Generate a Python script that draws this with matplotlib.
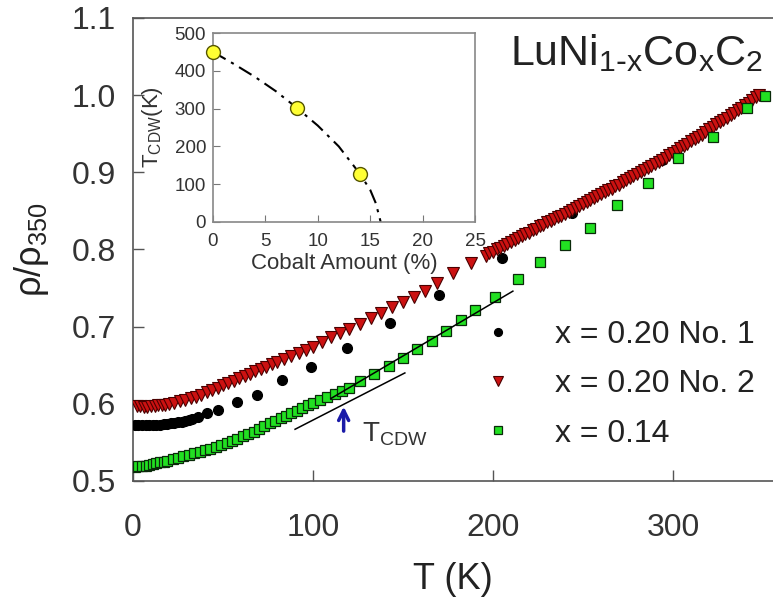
import matplotlib
matplotlib.use("Agg")
import matplotlib.pyplot as plt

plt.rcParams['font.family'] = ['Liberation Sans', 'DejaVu Sans']
plt.rcParams['mathtext.default'] = 'regular'

# x = 0.20 No. 1 (black circles)
t_no1 = [1, 3, 5, 7, 9, 11, 13, 15, 17, 19, 21, 23, 25, 27, 29, 31, 33, 36,
         41, 47, 58, 69, 83, 99, 119, 143, 170, 205, 244, 294, 340]
rho_no1 = [0.573, 0.573, 0.572, 0.572, 0.572, 0.573, 0.573, 0.573, 0.574, 0.574,
           0.575, 0.575, 0.576, 0.577, 0.578, 0.579, 0.580, 0.583,
           0.588, 0.592, 0.602, 0.611, 0.631, 0.648, 0.672, 0.705, 0.741,
           0.789, 0.847, 0.916, 0.985]

# x = 0.20 No. 2 (red triangles): sparse below 190 K, dense above
t_no2 = [2, 4, 6, 8, 10, 12, 14, 16, 18, 20, 23, 26, 29, 32, 35, 38, 41, 44, 47,
         50, 53, 56, 59, 62, 65, 68, 71, 74, 77, 80, 84, 88, 92, 96, 100, 105,
         110, 115, 120, 126, 132, 138, 144, 150, 156, 162, 169, 178, 188,
         196, 198, 200, 202, 204, 206, 208, 210, 212, 214, 216, 218, 220, 222,
         224, 226, 228, 230, 232, 234, 236, 238, 240, 242, 244, 246, 248, 250,
         252, 254, 256, 258, 260, 262, 264, 266, 268, 270, 272, 274, 276, 278,
         280, 282, 284, 286, 288, 290, 292, 294, 296, 298, 300, 302, 304, 306,
         308, 310, 312, 314, 316, 318, 320, 322, 324, 326, 328, 330, 332, 334,
         336, 338, 340, 342, 344, 346, 348]
rho_no2 = [0.597, 0.597, 0.596, 0.596, 0.597, 0.597, 0.598, 0.598, 0.599, 0.600,
           0.601, 0.603, 0.605, 0.607, 0.609, 0.612, 0.615, 0.618, 0.621,
           0.624, 0.627, 0.630, 0.633, 0.636, 0.639, 0.642, 0.645, 0.648, 0.651,
           0.654, 0.658, 0.662, 0.666, 0.670, 0.674, 0.680, 0.686, 0.692, 0.697,
           0.704, 0.711, 0.718, 0.725, 0.732, 0.739, 0.746, 0.757, 0.769, 0.782,
           0.792, 0.795, 0.797, 0.800, 0.802, 0.805, 0.807, 0.810, 0.812, 0.815,
           0.817, 0.820, 0.822, 0.825, 0.827, 0.830, 0.832, 0.835, 0.837, 0.840,
           0.842, 0.844, 0.846, 0.849, 0.851, 0.854, 0.856, 0.859, 0.862, 0.864,
           0.867, 0.869, 0.872, 0.874, 0.877, 0.879, 0.882, 0.884, 0.887, 0.890,
           0.893, 0.895, 0.898, 0.900, 0.903, 0.905, 0.908, 0.911, 0.914, 0.916,
           0.919, 0.922, 0.925, 0.928, 0.931, 0.934, 0.937, 0.940, 0.943, 0.946,
           0.949, 0.952, 0.956, 0.959, 0.962, 0.965, 0.968, 0.971, 0.974, 0.977,
           0.981, 0.984, 0.987, 0.990, 0.994, 0.997, 1.000]

# x = 0.14 (green squares)
t_x14 = [1, 3, 5, 7, 9, 11, 13, 15, 17, 19, 22, 25, 28, 31, 34, 37, 40, 43, 46,
         49, 52, 55, 58, 61, 64, 67, 70, 73, 76, 79, 82, 85, 88, 91, 94, 97, 100,
         104, 108, 112, 116, 120, 126, 134, 142, 150, 158, 166, 174, 182, 190,
         201, 214, 226, 240, 254, 269, 286, 303, 322, 341, 351]
rho_x14 = [0.518, 0.519, 0.520, 0.520, 0.521, 0.522, 0.523, 0.524, 0.525, 0.526,
           0.528, 0.530, 0.532, 0.534, 0.536, 0.538, 0.540, 0.542, 0.544,
           0.547, 0.549, 0.552, 0.555, 0.558, 0.561, 0.564, 0.567, 0.571, 0.575,
           0.578, 0.581, 0.584, 0.588, 0.591, 0.595, 0.598, 0.601,
           0.605, 0.609, 0.613, 0.617, 0.621, 0.630, 0.639, 0.649, 0.660, 0.671,
           0.682, 0.694, 0.708, 0.722,
           0.738, 0.762, 0.784, 0.806, 0.828, 0.858, 0.886, 0.918, 0.946, 0.984,
           0.999]

# straight-line guides around T_CDW for x = 0.14
fit_hi_t = [110, 211]
fit_hi_rho = [0.607, 0.746]
fit_lo_t = [90, 151]
fit_lo_rho = [0.567, 0.640]
t_cdw_arrow = 117

# inset: T_CDW vs cobalt amount
co_pct = [0, 8, 14]
t_cdw = [450, 302, 128]
curve_pct = [0, 2, 4, 6, 8, 10, 12, 14, 15, 15.5, 15.8, 16]
curve_t = [450, 418, 384, 346, 302, 255, 200, 128, 85, 52, 22, 0]

fig = plt.figure(figsize=(7.73, 5.98), dpi=100)
ax = fig.add_axes([0.1721, 0.1957, 0.8279, 0.7742])

ax.plot(t_no1, rho_no1, 'o', ms=7, color='black', mec='black',
        label='x = 0.20 No. 1', zorder=3)
ax.plot(t_no2, rho_no2, 'v', ms=8.5, color='#cc1111', mec='#4a0000', mew=0.8,
        label='x = 0.20 No. 2', zorder=4)
ax.plot(t_x14, rho_x14, 's', ms=7, color='#22e022', mec='#0a2a0a', mew=0.9,
        label='x = 0.14', zorder=5)
ax.plot(fit_hi_t, fit_hi_rho, '-', color='black', lw=1.1, zorder=6)
ax.plot(fit_lo_t, fit_lo_rho, '-', color='black', lw=1.1, zorder=6)

ax.annotate('', xy=(t_cdw_arrow, 0.600), xytext=(t_cdw_arrow, 0.561),
            arrowprops=dict(arrowstyle='->', color='#1a1aa8', lw=2.5,
                            mutation_scale=18))
ax.text(127, 0.560, r'$T_{CDW}$', fontsize=20, color='#333333',
        va='center', ha='left')

ax.text(350, 1.055, r'LuNi$_{1\text{-}x}$Co$_x$C$_2$', fontsize=31,
        color='#222222', ha='right', va='center')

ax.set_xlim(0, 355.5)
ax.set_ylim(0.5, 1.1)
ax.set_xticks([0, 100, 200, 300])
ax.set_yticks([0.5, 0.6, 0.7, 0.8, 0.9, 1.0, 1.1])
ax.set_yticklabels(['0.5', '0.6', '0.7', '0.8', '0.9', '1.0', '1.1'])
ax.tick_params(direction='in', length=8, width=1, colors='#555555',
               labelcolor='#333333', labelsize=23)
ax.tick_params(axis='x', pad=23)
ax.tick_params(axis='y', pad=12)
ax.spines['right'].set_visible(False)
for s in ['left', 'bottom', 'top']:
    ax.spines[s].set_color('#555555')
    ax.spines[s].set_linewidth(1.2)

ax.set_xlabel('T (K)', fontsize=26, color='#222222', labelpad=14)
ax.set_ylabel(r'$\rho/\rho_{350}$', fontsize=26, color='#222222', labelpad=15)

leg = ax.legend(loc='upper left', bbox_to_anchor=(0.545, 0.347),
                frameon=False, fontsize=23, handlelength=1.0,
                handletextpad=1.3, labelspacing=0.6, borderpad=0,
                borderaxespad=0, markerscale=0.8)
for txt in leg.get_texts():
    txt.set_color('#222222')

# inset
axi = fig.add_axes([0.2755, 0.6288, 0.339, 0.316])
axi.plot(curve_pct, curve_t, color='black', lw=1.5, ls=(0, (7, 3, 1.5, 3)))
axi.plot(co_pct, t_cdw, 'o', ms=10, color='#ffff33', mec='#555500', mew=1,
         clip_on=False, zorder=5)
axi.set_xlim(0, 25)
axi.set_ylim(0, 500)
axi.set_xticks([0, 5, 10, 15, 20, 25])
axi.set_yticks([0, 100, 200, 300, 400, 500])
axi.tick_params(direction='in', length=5, colors='#777777',
                labelcolor='#333333', labelsize=13.5)
axi.tick_params(axis='x', pad=8)
axi.tick_params(axis='y', pad=5)
for s in axi.spines.values():
    s.set_color('#888888')
    s.set_linewidth(1.2)
axi.set_xlabel('Cobalt Amount (%)', fontsize=16, color='#333333', labelpad=2)
axi.set_ylabel(r'$T_{CDW}(K)$', fontsize=16, color='#333333', labelpad=7)

fig.savefig('out.png', dpi=100)
